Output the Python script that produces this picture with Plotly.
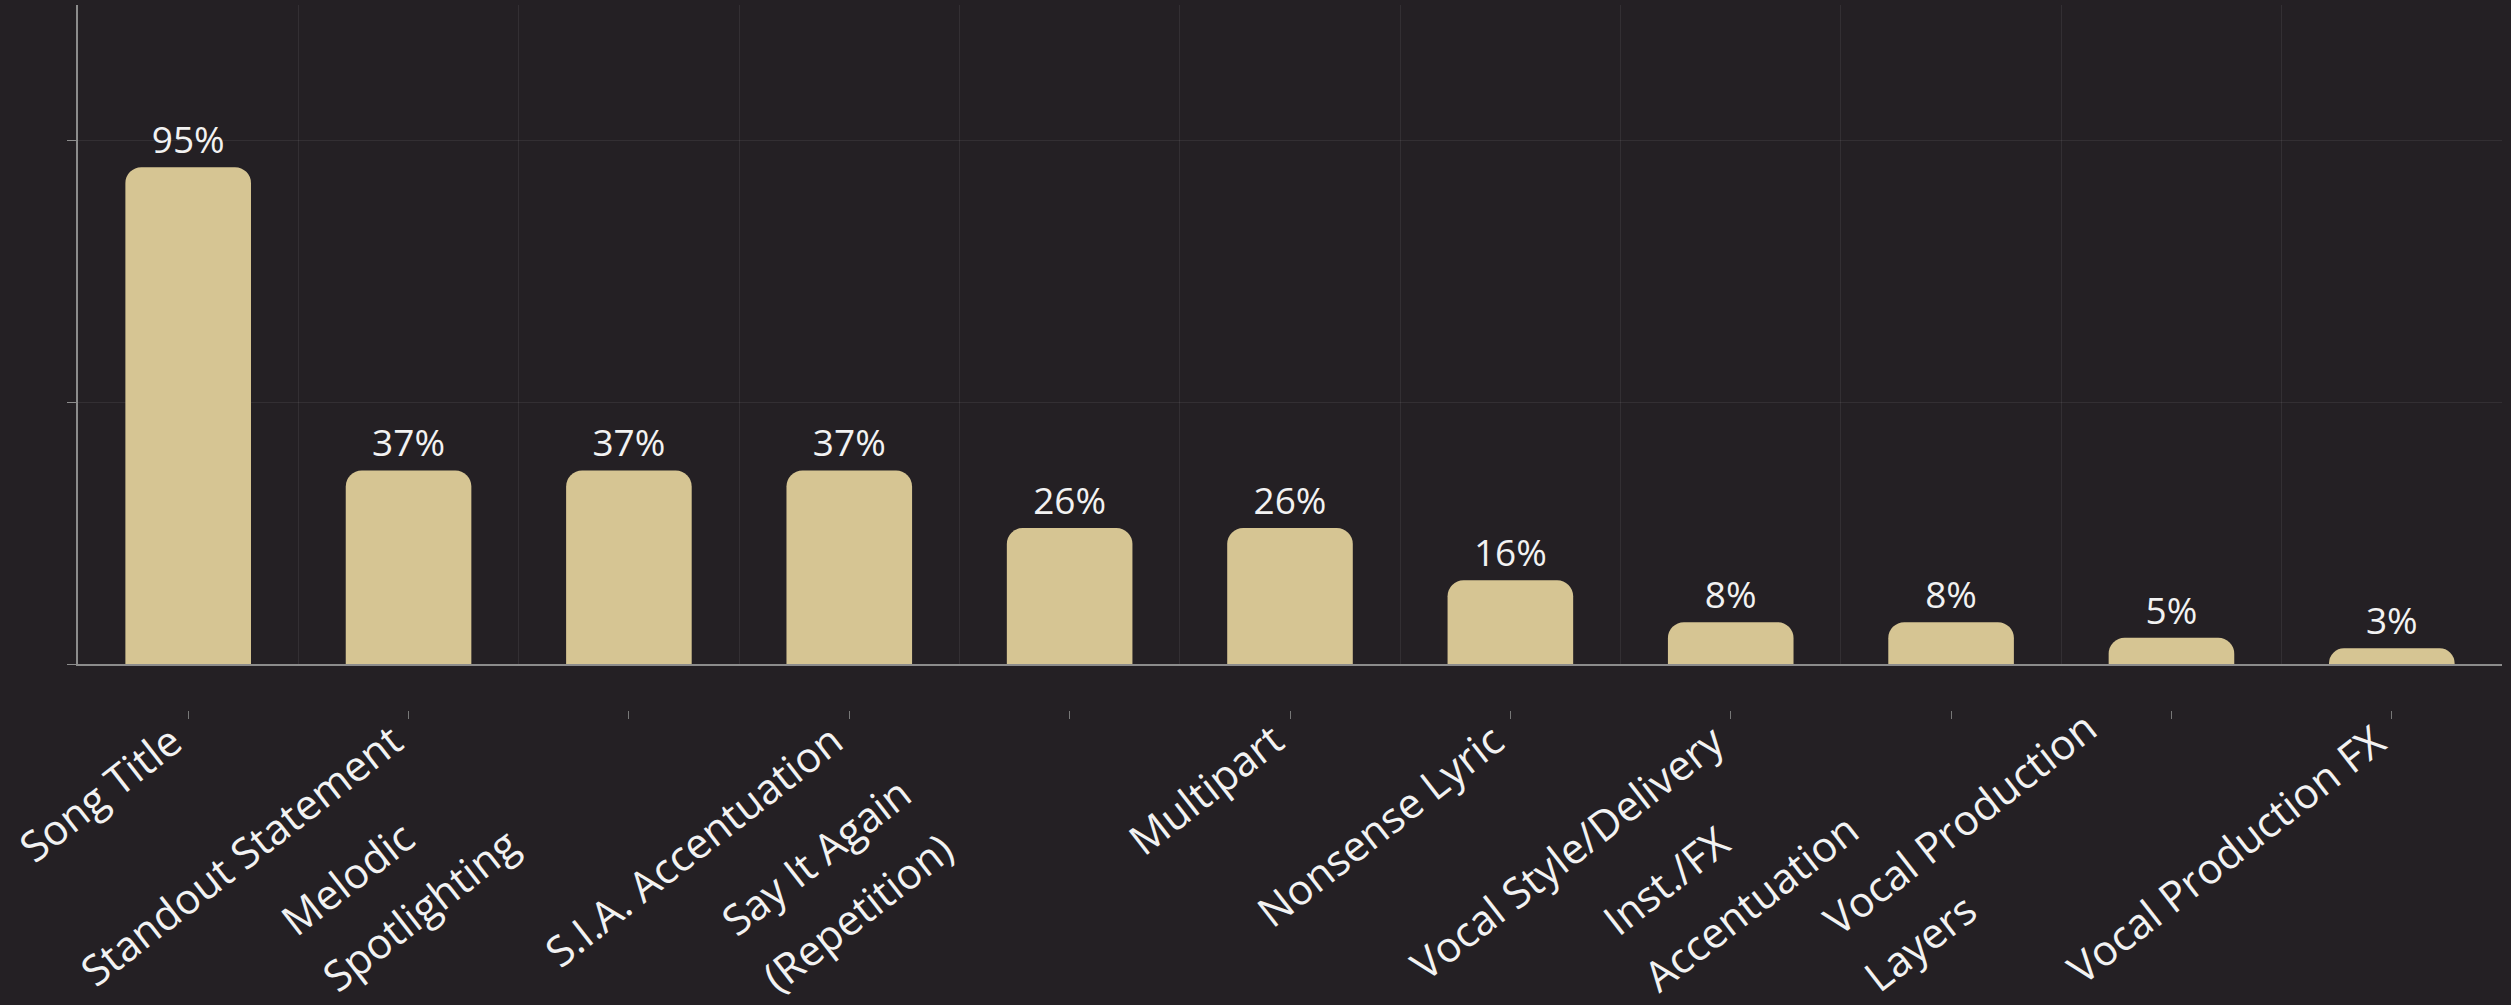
import plotly.graph_objects as go

categories = ["Song Title", "Standout Statement", "Melodic<br>Spotlighting", "S.I.A. Accentuation",
              "Say It Again<br>(Repetition)", "Multipart", "Nonsense Lyric", "Vocal Style/Delivery",
              "Inst./FX<br>Accentuation", "Vocal Production<br>Layers", "Vocal Production FX"]
values = [95, 37, 37, 37, 26, 26, 16, 8, 8, 5, 3]

BAR = "#d6c593"
TXT = "#f2f2f2"
AX = "#8c8c8c"
FONT = "Open Sans"

W, H = 2511, 1005
top = 5
base = 664


def py(ypx):
    return (H - ypx) / (H - top)


fig = go.Figure()
fig.add_trace(go.Bar(
    x=categories, y=values,
    marker=dict(color=BAR, cornerradius=16, line=dict(width=0)),
    text=[f"{v}%" for v in values], textposition="outside",
    textfont=dict(family=FONT, size=37, color=TXT),
    cliponaxis=False, hoverinfo="skip", showlegend=False,
))
# helper trace so the offset tick axis (x2) is drawn
fig.add_trace(go.Scatter(
    x=categories, y=values, xaxis="x2", mode="markers",
    marker=dict(opacity=0, size=1), hoverinfo="skip", showlegend=False,
))

LBL = dict(family=FONT, size=42, color=TXT)
annotations = []
for c in categories:
    lines = c.split("<br>")
    if len(lines) == 1:
        annotations.append(dict(
            x=c, xref="x", yref="paper", y=py(708),
            xanchor="right", yanchor="top", xshift=7,
            text=c, showarrow=False, textangle=-38, font=LBL,
        ))
    else:
        for k, line in enumerate(lines):
            annotations.append(dict(
                x=c, xref="x", yref="paper", y=py(950 + 56 * k),
                xanchor="left", yanchor="bottom", xshift=-363 + 41 * k,
                text=line, showarrow=False, textangle=-38, font=LBL,
            ))

fig.update_layout(
    width=W, height=H,
    margin=dict(l=78, r=9, t=top, b=0, autoexpand=False),
    paper_bgcolor="#242024", plot_bgcolor="rgba(0,0,0,0)",
    bargap=0.43,
    font=dict(family=FONT, color=TXT),
    annotations=annotations,
    xaxis=dict(type="category", range=[-0.5, len(categories) - 0.5], autorange=False,
               showgrid=True, gridcolor="rgba(255,255,255,0.07)", gridwidth=1,
               tickson="boundaries", ticks="", showticklabels=False,
               showline=True, linecolor=AX, linewidth=2, zeroline=False, fixedrange=True),
    xaxis2=dict(type="category", overlaying="x", matches="x", anchor="free",
                position=py(710), side="bottom",
                showgrid=False, showline=False, zeroline=False,
                ticks="outside", ticklen=8, tickwidth=1, tickcolor="#777777",
                showticklabels=False),
    yaxis=dict(range=[0, 126], autorange=False, domain=[py(base), 1],
               showgrid=True, gridcolor="rgba(255,255,255,0.07)", gridwidth=1,
               tick0=0, dtick=50, ticks="outside", ticklen=9, tickcolor=AX,
               showticklabels=False, showline=True, linecolor=AX, linewidth=2,
               zeroline=False, fixedrange=True),
)

fig.write_html("out.html")
